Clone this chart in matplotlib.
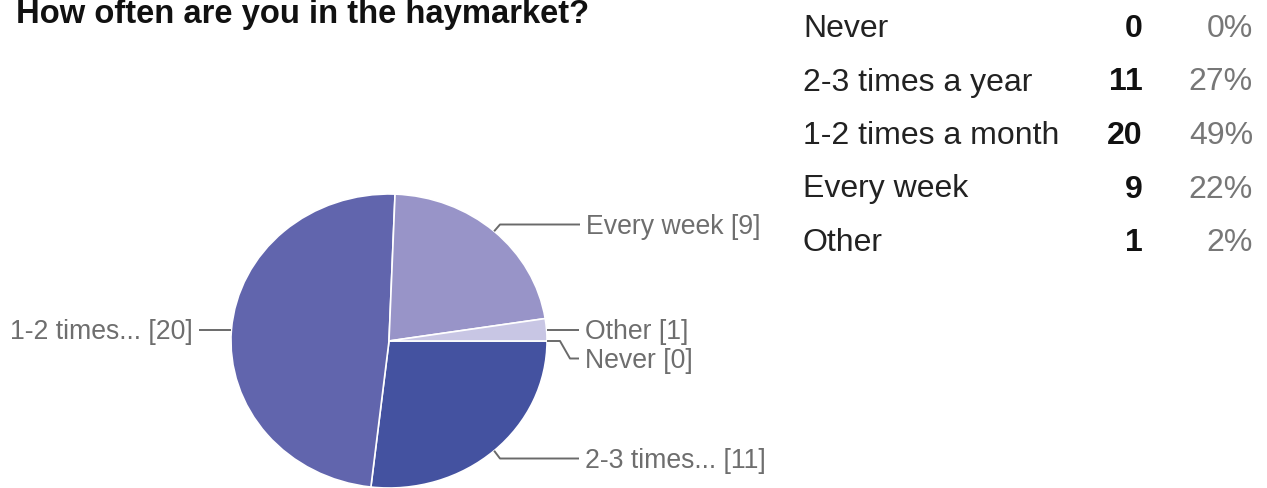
import numpy as np
import matplotlib
matplotlib.use("Agg")
import matplotlib.pyplot as plt

# Survey results
title = "How often are you in the haymarket?"
answers = ["Never", "2-3 times a year", "1-2 times a month", "Every week", "Other"]
short_answers = ["Never", "2-3 times...", "1-2 times...", "Every week", "Other"]
counts = [0, 11, 20, 9, 1]
colors = ["#4452a0", "#4452a0", "#6165ad", "#9894c8", "#c8c6e4"]

W, H = 1267, 488
SX = 1.075  # horizontal stretch of the chart
FONT = "Liberation Sans"

fig = plt.figure(figsize=(W / 100, H / 100), dpi=100)
fig.patch.set_facecolor("white")

# Pie axes: data units are pixels vertically, stretched pixels horizontally
ax_pie = fig.add_axes([0, 0, 1, 1])
cx, cy, R = 389 / SX, H - 341, 147
wedges, _ = ax_pie.pie(counts, colors=colors, startangle=0, counterclock=False,
                       center=(cx, cy), radius=R,
                       wedgeprops=dict(edgecolor="white", linewidth=1.2))
ax_pie.set_aspect("auto")
ax_pie.set_xlim(0, W / SX)
ax_pie.set_ylim(0, H)
ax_pie.axis("off")

# Overlay axes in plain pixel coordinates (y downwards)
ax = fig.add_axes([0, 0, 1, 1], facecolor="none")
ax.set_xlim(0, W)
ax.set_ylim(H, 0)
ax.axis("off")

to_px = lambda p: ax.transData.inverted().transform(ax_pie.transData.transform(p))

def anchor(w):
    th = np.deg2rad((w.theta1 + w.theta2) / 2)
    return to_px((cx + R * np.cos(th), cy + R * np.sin(th)))

line_kw = dict(color="#6a6a6a", lw=1.4, solid_capstyle="butt")
label_kw = dict(fontsize=19.2, color="#6e6e6e", family=FONT)

# Leader lines and labels
leaders = {
    "Every week": [(500, 224.5), (580, 224.5)],
    "Other": [(579, None)],
    "Never": [(560, None), (570, 358.5), (579, 358.5)],
    "2-3 times a year": [(500, 458.5), (579, 458.5)],
    "1-2 times a month": [(199, None)],
}
for name, short, n, w in zip(answers, short_answers, counts, wedges):
    ax0, ay0 = anchor(w)
    pts = [(ax0, ay0)] + [(x, ay0 if y is None else y) for x, y in leaders[name]]
    xs, ys = zip(*pts)
    ax.plot(xs, ys, **line_kw)
    end_x, end_y = pts[-1]
    txt = f"{short} [{n}]"
    if end_x < ax0:
        ax.text(end_x - 6, end_y + 9.5, txt, ha="right", va="baseline", **label_kw)
    else:
        ax.text(end_x + 6, end_y + 9.5, txt, ha="left", va="baseline", **label_kw)

# Title
ax.text(16, 23, title, fontsize=23.6, fontweight="bold", color="#111111",
        family=FONT, ha="left", va="baseline")

# Summary table
total = sum(counts)
row_base = [37, 90.5, 144, 197.5, 251]
for name, n, yb in zip(answers, counts, row_base):
    ax.text(803, yb, name, fontsize=23, color="#222222", family=FONT,
            ha="left", va="baseline")
    ax.text(1143, yb, str(n), fontsize=23, fontweight="bold", color="#111111",
            family=FONT, ha="right", va="baseline")
    ax.text(1253, yb, f"{round(100 * n / total)}%", fontsize=23, color="#777777",
            family=FONT, ha="right", va="baseline")

fig.savefig("out.png", dpi=100, facecolor="white")
